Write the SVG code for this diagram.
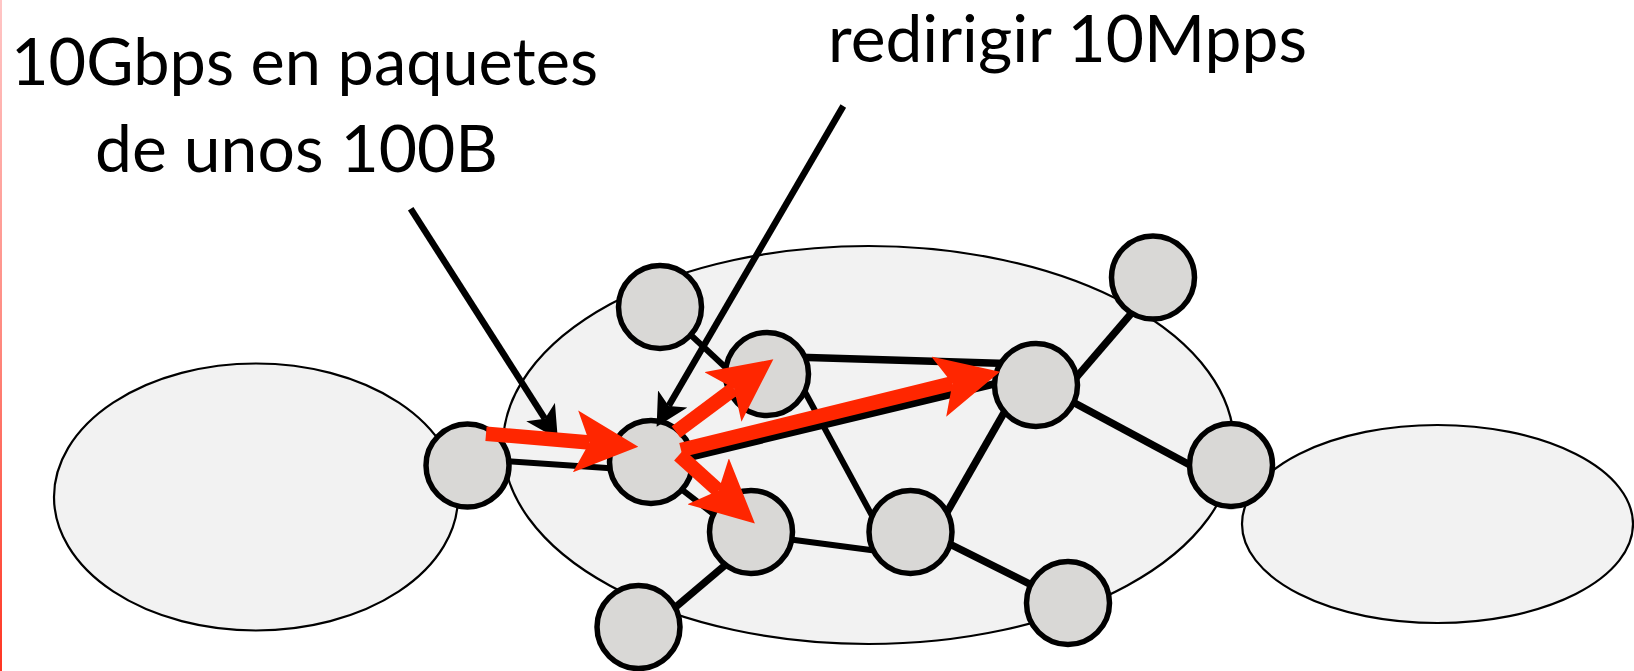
<svg xmlns="http://www.w3.org/2000/svg" width="1634" height="671" viewBox="0 0 1634 671">
  <style>
    .cloud { fill: #f2f2f2; stroke: #000; stroke-width: 2.2; }
    .node circle { fill: #d9d8d6; stroke: #000; stroke-width: 5.5; }
    .edge { stroke: #000; stroke-linecap: butt; fill: none; }
    .thick { stroke-width: 7.5; }
    .thin { stroke-width: 6; }
    .pointer { stroke: #000; stroke-width: 6.5; fill: none; marker-end: url(#blackHead); }
    .flow { stroke: #ff2600; stroke-width: 14.5; fill: none; marker-end: url(#redHead); }
    .label { font-family: Lato, "Open Sans", "Liberation Sans", sans-serif; font-size: 65px; fill: #000; text-anchor: middle; }
  </style>
  <defs>
    <linearGradient id="edgeBar" x1="0" y1="0" x2="0" y2="1">
      <stop offset="0" stop-color="#ffc6c6"/>
      <stop offset="0.5" stop-color="#ff8a80"/>
      <stop offset="1" stop-color="#ff3522"/>
    </linearGradient>
    <marker id="redHead" markerUnits="userSpaceOnUse" viewBox="0 0 63 62" markerWidth="63" markerHeight="62" refX="14" refY="31" orient="auto">
      <path d="M0,0 L63,31 L0,62 L14,31 Z" fill="#ff2600"/>
    </marker>
    <marker id="blackHead" markerUnits="userSpaceOnUse" viewBox="0 0 32 34" markerWidth="32" markerHeight="34" refX="8" refY="17" orient="auto">
      <path d="M0,0 L32,17 L0,34 L8,17 Z" fill="#000"/>
    </marker>
  </defs>

  <rect width="1634" height="671" fill="#fff"/>
  <rect x="0" y="0" width="2" height="671" fill="url(#edgeBar)"/>

  <!-- network clouds -->
  <g id="clouds">
    <ellipse id="cloud-left" class="cloud" cx="256" cy="497" rx="202" ry="133.5"/>
    <ellipse id="cloud-core" class="cloud" cx="868.5" cy="445" rx="365.5" ry="199"/>
    <ellipse id="cloud-right" class="cloud" cx="1437.5" cy="524" rx="195.5" ry="99"/>
  </g>

  <!-- links between routers -->
  <g id="connectors">
    <line class="edge thin" x1="500" y1="460.8" x2="618" y2="468.7"/>
    <line class="edge thin" x1="685.7" y1="330.2" x2="732.3" y2="373.8"/>
    <line class="edge thick" x1="800" y1="357.2" x2="1007" y2="363.6"/>
    <line class="edge thin" x1="800.2" y1="383.2" x2="874.8" y2="520.8"/>
    <line class="edge thick" x1="682" y1="459" x2="1006.4" y2="381"/>
    <line class="edge thin" x1="677.1" y1="485.9" x2="719.9" y2="519.1"/>
    <line class="edge thick" x1="670.4" y1="611.5" x2="730.6" y2="560.5"/>
    <line class="edge thin" x1="785" y1="538.7" x2="880" y2="551.3"/>
    <line class="edge thick" x1="943.3" y1="518.7" x2="1006.7" y2="408"/>
    <line class="edge thick" x1="942.7" y1="540.5" x2="1037.3" y2="587.8"/>
    <line class="edge thick" x1="1071.8" y1="382.6" x2="1136.5" y2="307.4"/>
    <line class="edge thick" x1="1069.5" y1="400.3" x2="1195.5" y2="468"/>
  </g>

  <!-- routers -->
  <g id="node-a" class="node"><circle cx="467.5" cy="465.5" r="41.5"/></g>
  <g id="node-b" class="node"><circle cx="660" cy="307" r="41.5"/></g>
  <g id="node-c" class="node"><circle cx="651" cy="462" r="41.5"/></g>
  <g id="node-d" class="node"><circle cx="767" cy="374" r="41.5"/></g>
  <g id="node-e" class="node"><circle cx="751" cy="532" r="41.5"/></g>
  <g id="node-f" class="node"><circle cx="638.5" cy="627" r="41.5"/></g>
  <g id="node-g" class="node"><circle cx="1036" cy="385" r="41.5"/></g>
  <g id="node-h" class="node"><circle cx="910.5" cy="532" r="41.5"/></g>
  <g id="node-tr" class="node"><circle cx="1153" cy="277.5" r="41.5"/></g>
  <g id="node-r" class="node"><circle cx="1231" cy="465" r="41.5"/></g>
  <g id="node-br" class="node"><circle cx="1068" cy="603" r="41.5"/></g>

  <!-- callout pointers -->
  <g id="pointers">
    <line class="pointer" x1="410.7" y1="208.7" x2="544.9" y2="418.8"/>
    <line class="pointer" x1="843.3" y1="106" x2="668.7" y2="405.9"/>
  </g>

  <!-- packet flow -->
  <g id="flows">
    <line class="flow" x1="486" y1="433.7" x2="589.5" y2="442.5"/>
    <line class="flow" x1="676" y1="432" x2="734.1" y2="388.6"/>
    <line class="flow" x1="681" y1="450" x2="952.4" y2="383.4"/>
    <line class="flow" x1="679" y1="455" x2="718.5" y2="490.6"/>
  </g>

  <!-- labels -->
  <g id="labels">
    <text class="label" x="304.5" y="85" textLength="587" lengthAdjust="spacingAndGlyphs">10Gbps en paquetes</text>
    <text class="label" x="296.5" y="171.7" textLength="403" lengthAdjust="spacingAndGlyphs">de unos 100B</text>
    <text class="label" x="1067.5" y="61.7" textLength="479" lengthAdjust="spacingAndGlyphs">redirigir 10Mpps</text>
  </g>
</svg>
